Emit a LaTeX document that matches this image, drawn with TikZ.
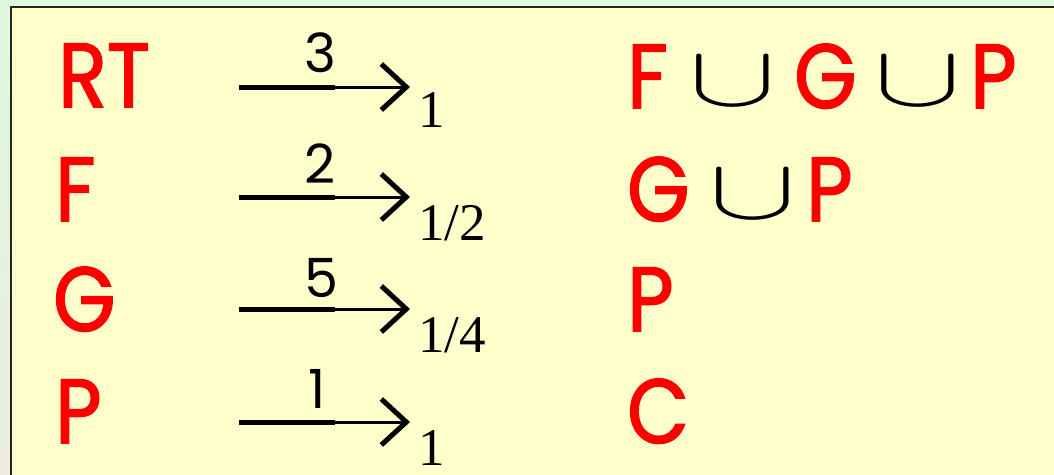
\documentclass[tikz,border=0pt]{standalone}
\usepackage{fontspec}
\usepackage{graphicx}
\setmainfont{Poppins}
\newfontfamily\comic{Poppins}[FakeBold=1.8,FakeStretch=0.88]
\newfontfamily\serifnum{Liberation Serif}
\usetikzlibrary{arrows.meta}
\definecolor{outerbg}{HTML}{DDF8DD}
\definecolor{outerbot}{HTML}{ECECE0}
\definecolor{boxbg}{HTML}{FFFFCC}
\definecolor{letter}{HTML}{FF0000}
\tikzset{
  big/.style={anchor=base west, inner sep=0pt, text=letter, font=\comic\fontsize{91}{100}\selectfont},
  lbl/.style={anchor=base, inner sep=0pt, font=\fontsize{54}{60}\selectfont},
  sub/.style={anchor=base west, inner sep=0pt, font=\serifnum\fontsize{53}{60}\selectfont},
  thickpart/.style={line width=5pt},
  thinpart/.style={line width=3pt, -{Straight Barb[length=25pt,width=46pt,line width=5pt]}},
}
\newcommand{\mycup}{\textcolor{black}{\raisebox{3pt}{\scalebox{13}[8.6]{\fontsize{10}{12}\selectfont$\cup$}}}}
\begin{document}
\begin{tikzpicture}[x=1pt,y=-1pt]
\useasboundingbox (0,0) rectangle (1054,474);
\clip (0,0) rectangle (1054,474);
\shade[top color=outerbg, bottom color=outerbot] (0,0) rectangle (1054,474);
\draw[fill=boxbg, line width=2.5pt, draw=black!85] (11,7) rectangle (1070,490);
% left column
\node[big] (rt) at (58,107) {RT};
\node[big] (f) at (55,221) {F};
\node[big] (g) at (53,331) {G};
\node[big] (p) at (55,443) {P};
% arrows
\foreach \n/\y in {1/87,2/197,3/309,4/422}{
  \coordinate (a\n) at (239,\y);
  \coordinate (m\n) at (335,\y);
  \coordinate (b\n) at (410,\y);
  \draw[thickpart] (a\n) -- (m\n);
  \draw[thinpart] (m\n) -- (b\n);
}
\node[lbl] (l1) at (320,72) {3};
\node[lbl] (l2) at (320,183) {2};
\node[lbl] (l3) at (321,297) {5};
\node[lbl] (l4) at (317,408) {1};
\node[sub] (s1) at (418,127) {1};
\node[sub] (s2) at (418,240) {1/2};
\node[sub] (s3) at (418,352) {1/4};
\node[sub] (s4) at (418,465) {1};
% right column
\node[big] (r1) at (627,108) {F\hspace{22pt}\mycup\hspace{18pt}G\hspace{18pt}\mycup\hspace{9pt}P};
\node[big] (r2) at (627,221) {G\hspace{20pt}\mycup\hspace{10pt}P};
\node[big] (r3) at (627,331) {P};
\node[big] (r4) at (627,443) {C};
\end{tikzpicture}
\end{document}
